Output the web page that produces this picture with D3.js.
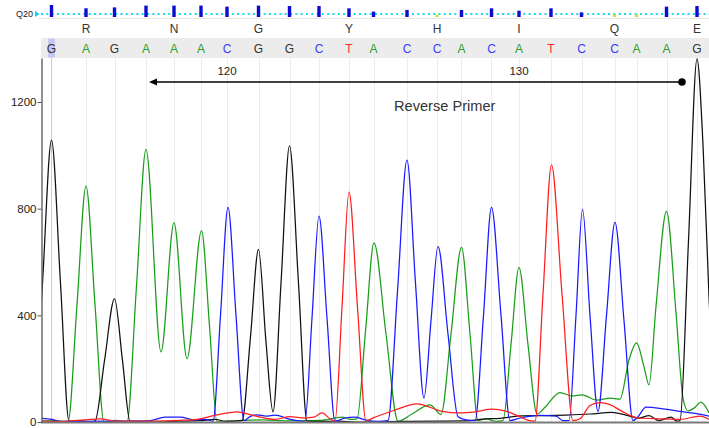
<!DOCTYPE html>
<html>
<head>
<meta charset="utf-8">
<script src="https://cdn.jsdelivr.net/npm/d3@7"></script>
<style>
  html, body { margin: 0; padding: 0; background: #fff; }
  svg { display: block; font-family: "Liberation Sans", Arial, sans-serif; }
</style>
</head>
<body>
<svg id="chart" width="709" height="428"></svg>
<script>
// ---- Base calls (scan positions, quality, numbering) ----
const baseCalls   = ["G","A","G","A","A","A","C","G","G","C","T","A","C","C","A","C","A","T","C","C","A","A","G"];
const baseScans   = [3004.2,3018,3029.4,3042,3053.2,3064,3074.4,3087,3099.4,3111.2,3123.2,3133,
                     3146.4,3158.4,3168.2,3180.2,3191.2,3204,3216.2,3229.4,3238.2,3250.2,3262.4];
const baseQuality = [80,58,64,76,76,76,69,76,73,73,58,36,47,16,47,58,42,58,31,18,18,69,73];
const firstBaseNumber = 114;
const positionLabels  = [120, 130];

// Translated codons, each shown over the middle base of its codon
const aminoAcids     = ["R","N","G","Y","H","I","Q","E"];
const aminoBaseIndex = [1,4,7,10,13,16,19,22];

// Primer annotation (scan range, arrow points toward the start)
const primerLabel = "Reverse Primer";
const primerFrom  = 3256.4;
const primerTo    = 3043.2;
const primerLabelScan = 3141.2;

const yTicks = [0, 400, 800, 1200];
const qualityThreshold = 20;

// ---- Trace channels: [scan, signal] ----
const traceG = [[2997.2,0],[3000.6,520],[3004.2,1057],[3007.8,520],[3011.2,3],[3015.6,5],[3019.6,0],
  [3021.6,3],[3025.4,230],[3029.4,462],[3032.6,230],[3035.6,3],[3043.6,0],[3055.6,3],[3063.6,5],
  [3069.6,10],[3073.6,3],[3080.4,5],[3083.8,320],[3087,647],[3090,300],[3092.8,38],[3096,520],
  [3099.4,1035],[3103,520],[3106.4,3],[3111.6,2],[3117.6,3],[3127.6,0],[3143.6,2],[3159.6,3],
  [3171.6,5],[3176.4,11],[3183.6,14],[3192.4,23],[3201.6,24],[3210,26],[3219.6,30],[3228.4,36],
  [3234,26],[3239.2,15],[3243.2,24],[3247.2,5],[3252,18],[3254.4,3],[3255.6,5],[3259,680],
  [3262.4,1362],[3264.8,1040],[3267.2,470],[3270,0]];

const traceA = [[3000,3],[3005.6,5],[3010.8,0],[3014.4,440],[3018,885],[3021.6,440],[3025.2,0],
  [3029.6,6],[3034.4,0],[3038.2,510],[3042,1022],[3048,263],[3053.2,747],[3058.4,237],[3064.2,717],
  [3067.4,360],[3070.4,0],[3075.6,3],[3088.4,8],[3099.6,4],[3111.6,6],[3120.4,18],[3123.6,10],
  [3126.4,12],[3129.8,340],[3133.2,672],[3138,330],[3142.8,3],[3148.4,30],[3155.6,64],[3160,28],
  [3164,330],[3168.2,655],[3171.6,330],[3174.8,5],[3178,12],[3182,2],[3184.8,5],[3188,290],
  [3191.2,580],[3194.8,290],[3198.4,30],[3201.6,55],[3207.6,110],[3212.4,98],[3216.4,102],
  [3222.4,82],[3227.6,90],[3231.6,86],[3235.2,233],[3238.2,297],[3241.2,207],[3243.2,139],
  [3246,433],[3250.2,790],[3254,410],[3256.8,90],[3258.8,42],[3261.2,52],[3264,75],[3267.2,34]];

const traceC = [[3000,14],[3004.4,10],[3007.6,2],[3031.6,3],[3043.6,5],[3049.6,18],[3055.6,18],
  [3061.6,8],[3065.6,10],[3068.8,3],[3071.8,400],[3074.8,805],[3078,400],[3081.2,5],[3083.6,20],
  [3086.4,27],[3090,22],[3093.6,26],[3099.6,10],[3105.6,3],[3108.4,390],[3111.2,772],[3114.4,390],
  [3117.6,3],[3121.6,15],[3125.6,18],[3129.6,8],[3134.8,2],[3138.8,5],[3142.6,490],[3146.4,982],
  [3149.8,520],[3153.2,90],[3156,380],[3158.8,659],[3162.8,330],[3166.8,20],[3170,8],[3173.6,5],
  [3177,400],[3180.2,805],[3184,400],[3187.6,5],[3191.6,15],[3199.6,25],[3206,22],[3208.8,5],
  [3211.2,5],[3214,400],[3216.6,798],[3219.6,400],[3222.8,40],[3226.2,400],[3229.6,749],
  [3233.2,380],[3236.8,5],[3238.8,20],[3242,56],[3249.6,48],[3255.6,40],[3261.6,32],[3267.2,22]];

const traceT = [[3000,3],[3007.6,2],[3017.6,8],[3023.6,12],[3030.8,3],[3043.6,3],[3055.6,6],
  [3063.6,12],[3069.6,25],[3078.4,38],[3083.6,28],[3088.4,17],[3093.6,10],[3099.6,20],[3105.6,15],
  [3109.2,18],[3112.4,34],[3115.6,12],[3117.6,3],[3120.4,430],[3123.2,862],[3126.6,430],[3130,5],
  [3133.6,18],[3141.6,45],[3150.4,68],[3160.4,40],[3167.6,34],[3173.6,38],[3180.4,48],[3185.6,42],
  [3190,26],[3194.4,8],[3197.6,3],[3200.8,480],[3204.2,964],[3208.4,480],[3212.8,5],[3215.6,12],
  [3219.6,62],[3223.6,73],[3227.6,65],[3232.4,40],[3239.2,15],[3247.6,12],[3255.6,10],
  [3263.6,22],[3267.2,10]];

const channels = [
  { name: "A", data: traceA, color: "#1a9e1a" },
  { name: "G", data: traceG, color: "#111111" },
  { name: "C", data: traceC, color: "#1a1aff" },
  { name: "T", data: traceT, color: "#ff1e1e" }
];
const baseColor = { G: "#333333", A: "#2a9e2a", C: "#3a3aff", T: "#ff2a2a" };

// ---- Layout ----
const svg = d3.select("#chart");
const plotLeft = 41, plotRight = 709, plotTop = 58, plotBottom = 422;

const x = d3.scaleLinear().domain([3000, 3267.2]).range([plotLeft, plotRight]);
const y = d3.scaleLinear().domain([0, 1365]).range([plotBottom, plotTop]);
const qy = d3.scaleLinear().domain([0, 80]).range([17, 5]);

// ---- Quality row ----
const qRow = svg.append("g");
qRow.append("text").attr("x", 16).attr("y", 17.2)
  .attr("font-size", 9).attr("fill", "#222").text("Q20");
qRow.append("path").attr("d", "M35,11 L39.5,14 L35,17 Z").attr("fill", "#00d6e6");
qRow.append("line").attr("x1", 41).attr("x2", plotRight)
  .attr("y1", qy(qualityThreshold)).attr("y2", qy(qualityThreshold))
  .attr("stroke", "#16dcea").attr("stroke-width", 2).attr("stroke-dasharray", "2,3.3");
qRow.append("line").attr("x1", 38).attr("x2", plotRight).attr("y1", 18.5).attr("y2", 18.5)
  .attr("stroke", "#e6e6e6");
qRow.selectAll("rect.q").data(baseQuality).join("rect")
  .attr("x", (d, i) => x(baseScans[i]) - 1.7)
  .attr("width", 3.4)
  .attr("y", d => qy(d))
  .attr("height", d => qy(0) - qy(d))
  .attr("fill", d => d < qualityThreshold ? "#d2e03c" : "#0c0cd0");

// ---- Amino acid row ----
svg.append("g").selectAll("text").data(aminoAcids).join("text")
  .attr("x", (d, i) => x(baseScans[aminoBaseIndex[i]]))
  .attr("y", 32.8)
  .attr("text-anchor", "middle").attr("font-size", 12).attr("fill", "#333")
  .text(d => d);

// ---- Base call band ----
const band = svg.append("g");
band.append("rect").attr("x", plotLeft).attr("y", 38).attr("width", plotRight - plotLeft).attr("height", 20)
  .attr("fill", "#ececec");
band.append("rect").attr("x", x(baseScans[0]) - 3.4).attr("y", 38.5).attr("width", 6.8).attr("height", 19)
  .attr("fill", "#c6c6f2");
band.selectAll("text").data(baseCalls).join("text")
  .attr("x", (d, i) => x(baseScans[i]))
  .attr("y", 53.3)
  .attr("text-anchor", "middle").attr("font-size", 12)
  .attr("fill", d => baseColor[d])
  .text(d => d);

// ---- Grid lines at base positions ----
svg.append("g").selectAll("line").data(baseScans).join("line")
  .attr("x1", d => Math.round(x(d)) + 0.5).attr("x2", d => Math.round(x(d)) + 0.5)
  .attr("y1", plotTop).attr("y2", plotBottom)
  .attr("stroke", (d, i) => i === 0 ? "#c8c8f6" : "#ececec").attr("stroke-width", 1);

// ---- Primer annotation ----
const ann = svg.append("g");
const arrowY = 82;
ann.append("line").attr("x1", x(primerTo) + 4).attr("x2", x(primerFrom))
  .attr("y1", arrowY).attr("y2", arrowY).attr("stroke", "#000").attr("stroke-width", 1.3);
ann.append("path")
  .attr("d", `M${x(primerTo)},${arrowY} L${x(primerTo) + 8},${arrowY - 3.5} L${x(primerTo) + 8},${arrowY + 3.5} Z`)
  .attr("fill", "#000");
ann.append("circle").attr("cx", x(primerFrom)).attr("cy", arrowY).attr("r", 3.8).attr("fill", "#000");
ann.append("text").attr("x", x(primerLabelScan)).attr("y", arrowY + 29)
  .attr("font-size", 14.6).attr("fill", "#333").text(primerLabel);
ann.selectAll("text.pos").data(positionLabels).join("text")
  .attr("class", "pos")
  .attr("x", d => x(baseScans[d - firstBaseNumber]))
  .attr("y", 74.5)
  .attr("text-anchor", "middle").attr("font-size", 11.5).attr("fill", "#222")
  .text(d => d);

// ---- Traces ----
svg.append("defs").append("clipPath").attr("id", "plotClip")
  .append("rect").attr("x", plotLeft + 1).attr("y", plotTop - 2)
  .attr("width", plotRight - plotLeft).attr("height", plotBottom - plotTop + 2);

const line = d3.line().x(d => x(d[0])).y(d => y(d[1])).curve(d3.curveMonotoneX);
svg.append("g").attr("clip-path", "url(#plotClip)")
  .selectAll("path").data(channels).join("path")
  .attr("d", d => line(d.data))
  .attr("fill", "none")
  .attr("stroke", d => d.color)
  .attr("stroke-width", 1.25)
  .attr("stroke-linejoin", "round");

// ---- Axes ----
svg.append("line").attr("x1", plotLeft).attr("x2", plotRight)
  .attr("y1", plotBottom + 0.5).attr("y2", plotBottom + 0.5)
  .attr("stroke", "#7a7a7a").attr("stroke-width", 2);

const yAxis = svg.append("g").attr("transform", `translate(${plotLeft + 0.5},0)`)
  .call(d3.axisLeft(y).tickValues(yTicks).tickFormat(d3.format("d"))
    .tickSize(4).tickSizeOuter(0).tickPadding(1));
yAxis.select(".domain").attr("stroke", "#555").attr("stroke-width", 1.3);
yAxis.selectAll(".tick line").attr("stroke", "#555");
yAxis.selectAll(".tick text").attr("font-size", 11.5).attr("fill", "#222")
  .attr("font-family", "Liberation Sans, Arial, sans-serif");
</script>
</body>
</html>
